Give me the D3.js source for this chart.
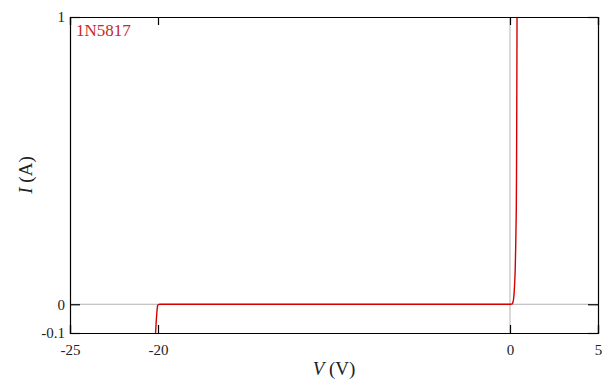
<!DOCTYPE html>
<html>
<head>
<meta charset="utf-8">
<script src="https://cdn.jsdelivr.net/npm/d3@7/dist/d3.min.js"></script>
<style>
  html, body { margin: 0; padding: 0; background: #fff; }
  svg { display: block; }
</style>
</head>
<body>
<svg id="chart" width="608" height="385"></svg>
<script>
// I–V characteristic of the 1N5817 Schottky diode
const seriesName = "1N5817";
const voltage = [-20.16, -20.12, -20.09, -20.06, -20.04, -20.02, -19.98, -19.9,
                 0.0, 0.08, 0.12, 0.15, 0.18, 0.21, 0.24, 0.27, 0.30, 0.32, 0.34, 0.36, 0.37, 0.38, 0.39, 0.40];
const current = [-0.12, -0.08, -0.05, -0.025, -0.012, -0.004, -0.001, 0.0,
                 0.0, 0.0005, 0.0015, 0.004, 0.01, 0.022, 0.045, 0.08, 0.13, 0.19, 0.26, 0.35, 0.45, 0.6, 0.8, 1.0];
const xTicks = [-25, -20, 0, 5];
const yTicks = [-0.1, 0, 1];
const xDomain = [-25, 5];
const yDomain = [-0.1, 1];

const SERIF = "'Liberation Serif', 'Times New Roman', serif";
const margin = { left: 70, right: 10, top: 17, bottom: 52 };
const W = 608, H = 385;
const svg = d3.select("#chart");
const x = d3.scaleLinear().domain(xDomain).range([margin.left, W - margin.right]);
const y = d3.scaleLinear().domain(yDomain).range([H - margin.bottom, margin.top]);

// zero reference lines
svg.append("line")
  .attr("x1", x(xDomain[0])).attr("x2", x(xDomain[1]))
  .attr("y1", y(0)).attr("y2", y(0))
  .attr("stroke", "#b3b3b3").attr("stroke-width", 1);
svg.append("line")
  .attr("x1", x(0)).attr("x2", x(0))
  .attr("y1", y(yDomain[0])).attr("y2", y(yDomain[1]))
  .attr("stroke", "#b3b3b3").attr("stroke-width", 1);

// clip for the curve
svg.append("clipPath").attr("id", "plotclip")
  .append("rect")
  .attr("x", x(xDomain[0])).attr("y", y(yDomain[1]))
  .attr("width", x(xDomain[1]) - x(xDomain[0]))
  .attr("height", y(yDomain[0]) - y(yDomain[1]));

const pts = voltage.map((v, i) => [v, current[i]]);
svg.append("path")
  .datum(pts)
  .attr("clip-path", "url(#plotclip)")
  .attr("fill", "none")
  .attr("stroke", "#d40000")
  .attr("stroke-width", 1.4)
  .attr("d", d3.line().x(d => x(d[0])).y(d => y(d[1])).curve(d3.curveMonotoneX));

// axes with inward ticks, mirrored on all four sides
const fmtY = d => d === -0.1 ? "-0.1" : String(d);
const fmtX = d => String(d);
const axBottom = d3.axisBottom(x).tickValues(xTicks).tickSize(-8).tickPadding(11).tickFormat(fmtX);
const axTop = d3.axisTop(x).tickValues(xTicks).tickSize(-8).tickFormat("");
const axLeft = d3.axisLeft(y).tickValues(yTicks).tickSize(-10).tickPadding(5).tickFormat(fmtY);
const axRight = d3.axisRight(y).tickValues(yTicks).tickSize(-10).tickFormat("");

function styleAxis(g) {
  g.attr("font-family", null);
  g.select(".domain").attr("stroke", "#000").attr("stroke-width", 1.2);
  g.selectAll(".tick line").attr("stroke", "#000").attr("stroke-width", 1.2);
  g.selectAll(".tick text").style("font-family", SERIF)
    .style("font-size", "15px").attr("fill", "#222");
}
svg.append("g").attr("transform", `translate(0,${y(yDomain[0])})`).call(axBottom).call(styleAxis);
svg.append("g").attr("transform", `translate(0,${y(yDomain[1])})`).call(axTop).call(styleAxis);
svg.append("g").attr("transform", `translate(${x(xDomain[0])},0)`).call(axLeft).call(styleAxis);
svg.append("g").attr("transform", `translate(${x(xDomain[1])},0)`).call(axRight).call(styleAxis);

// axis titles
const xt = svg.append("text")
  .attr("x", (x(xDomain[0]) + x(xDomain[1])) / 2).attr("y", 375)
  .attr("text-anchor", "middle")
  .style("font-family", SERIF).style("font-size", "19px").attr("fill", "#222");
xt.append("tspan").attr("font-style", "italic").text("V");
xt.append("tspan").text(" (V)");

const yt = svg.append("text")
  .attr("transform", `translate(32,${(y(yDomain[0]) + y(yDomain[1])) / 2}) rotate(-90)`)
  .attr("text-anchor", "middle")
  .style("font-family", SERIF).style("font-size", "19px").attr("fill", "#222");
yt.append("tspan").attr("font-style", "italic").text("I");
yt.append("tspan").text(" (A)");

// series label
svg.append("text")
  .attr("x", x(xDomain[0]) + 6).attr("y", y(yDomain[1]) + 19)
  .style("font-family", SERIF).style("font-size", "17px").attr("fill", "#c82828")
  .text(seriesName);
</script>
</body>
</html>
